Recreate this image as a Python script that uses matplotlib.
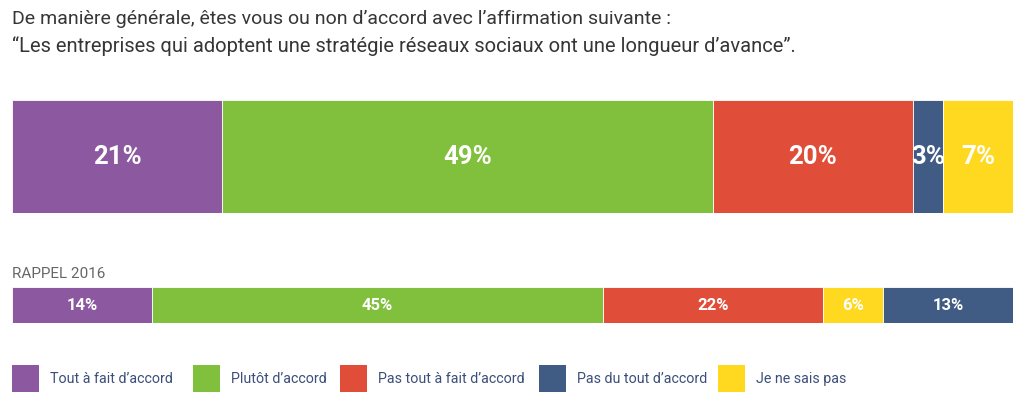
import matplotlib
matplotlib.use("Agg")
import matplotlib.pyplot as plt
from matplotlib.patches import Rectangle

categories = ["Tout à fait d\u2019accord", "Plutôt d\u2019accord", "Pas tout à fait d\u2019accord",
              "Pas du tout d\u2019accord", "Je ne sais pas"]
colors = {categories[0]: "#8C59A0", categories[1]: "#80C03C",
          categories[2]: "#E04E39", categories[3]: "#415C84",
          categories[4]: "#FFD820"}

order_2018 = [categories[0], categories[1], categories[2], categories[3], categories[4]]
values_2018 = [21, 49, 20, 3, 7]

order_2016 = [categories[0], categories[1], categories[2], categories[4], categories[3]]
values_2016 = [14, 45, 22, 6, 13]

title_lines = ["De manière générale, êtes vous ou non d\u2019accord avec l\u2019affirmation suivante :",
               "\u201cLes entreprises qui adoptent une stratégie réseaux sociaux ont une longueur d\u2019avance\u201d."]

plt.rcParams['font.family'] = ['Roboto', 'DejaVu Sans']

W, H = 1024, 407
fig = plt.figure(figsize=(W / 100, H / 100), dpi=100)
fig.patch.set_facecolor("white")

def px_axes(x0, y0, x1, y1):
    return fig.add_axes([x0 / W, 1 - y1 / H, (x1 - x0) / W, (y1 - y0) / H])

def draw_bar(ax, order, values, fs):
    left = 0
    for name, v in zip(order, values):
        ax.barh(0, v, left=left, height=1, color=colors[name], edgecolor="white", linewidth=0.6)
        ax.text(left + v / 2, 0, f"{v}%", ha="center", va="center", color="white",
                fontsize=fs, fontweight="bold")
        left += v
    ax.set_xlim(0, 100)
    ax.set_ylim(-0.5, 0.5)
    ax.axis("off")

ax1 = px_axes(12, 100, 1013, 213)
draw_bar(ax1, order_2018, values_2018, 18.5)

ax2 = px_axes(12, 287, 1013, 323)
draw_bar(ax2, order_2016, values_2016, 12)

fig.text(12 / W, 1 - 19 / H, title_lines[0], fontsize=14, color="#363636", va="center", ha="left")
fig.text(12 / W, 1 - 46 / H, title_lines[1], fontsize=14.5, color="#363636", va="center", ha="left")
fig.text(12 / W, 1 - 274 / H, "RAPPEL 2016", fontsize=11, color="#666666", va="center", ha="left")

leg_x = [12, 193, 340, 539, 718]
for x, name in zip(leg_x, categories):
    fig.patches.append(Rectangle((x / W, 1 - 392 / H), 27 / W, 27 / H,
                                 transform=fig.transFigure, facecolor=colors[name],
                                 edgecolor="none"))
    fig.text((x + 38) / W, 1 - 379 / H, name, fontsize=10.3, color="#3C4F7A",
             va="center", ha="left")

fig.savefig("out.png", dpi=100, facecolor="white")
